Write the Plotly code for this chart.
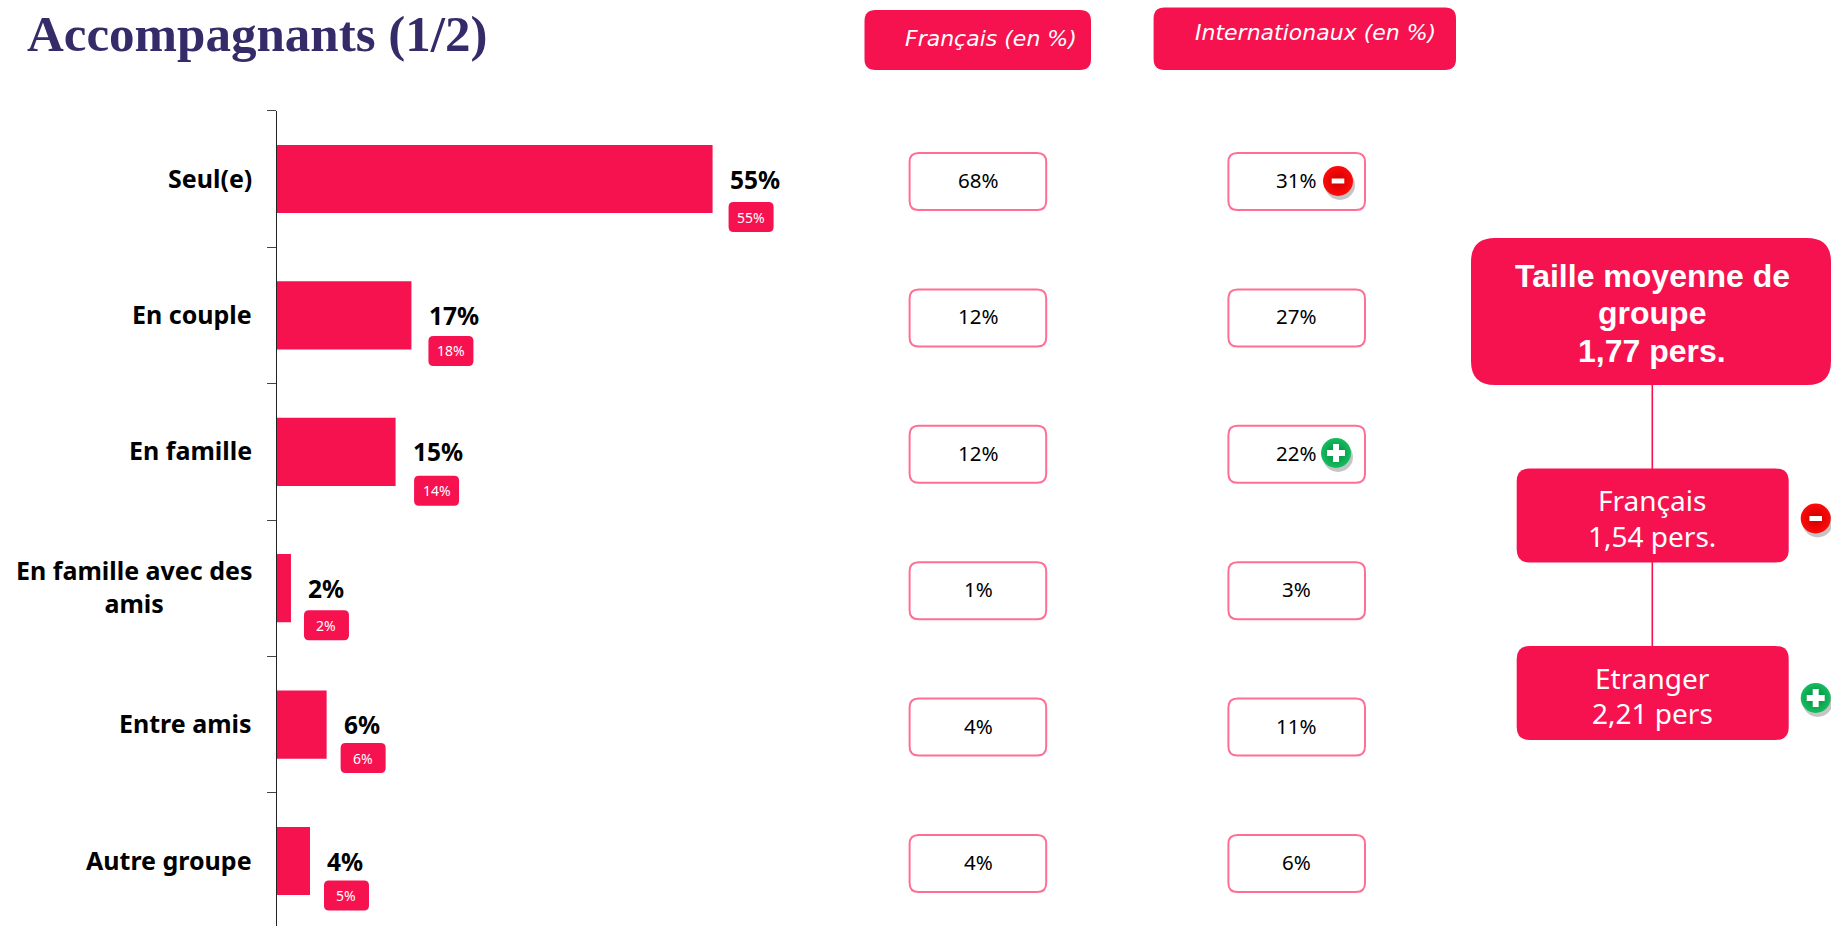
import plotly.graph_objects as go

W, H = 1831, 926
RED = "#F5124F"
PINK = "#FF6F93"
NAVY = "#352B69"

categories = ["Seul(e)", "En couple", "En famille", "En famille avec des amis", "Entre amis", "Autre groupe"]
category_labels = ["Seul(e)", "En couple", "En famille", "En famille avec des<br>amis", "Entre amis", "Autre groupe"]
bar_values = [55, 17, 15, 1.8, 6.3, 4.2]
bar_labels = ["55%", "17%", "15%", "2%", "6%", "4%"]
previous_labels = ["55%", "18%", "14%", "2%", "6%", "5%"]
francais = ["68%", "12%", "12%", "1%", "4%", "4%"]
internationaux = ["31%", "27%", "22%", "3%", "11%", "6%"]

badge_dx = [16, 17, 18.5, 13, 14, 14]
badge_dy = [38, 35.5, 39, 37, 33.5, 34.5]

FONT = "Noto Sans"
PLOT_L = 276.7
PX_PER_UNIT = 7.925
TOP = 110.8
BAND = 136.4


def rr(x0, y0, x1, y1, r):
    return (f"M{x0+r},{y0} L{x1-r},{y0} Q{x1},{y0} {x1},{y0+r} L{x1},{y1-r} Q{x1},{y1} {x1-r},{y1} "
            f"L{x0+r},{y1} Q{x0},{y1} {x0},{y1-r} L{x0},{y0+r} Q{x0},{y0} {x0+r},{y0} Z")


fig = go.Figure()
fig.add_bar(y=categories, x=bar_values, orientation="h", marker=dict(color=RED, line=dict(width=0)),
            width=0.5, hoverinfo="skip", showlegend=False)

shapes, ann = [], []


def pix_box(x0, y0, x1, y1, r, fill=RED, line=None, lw=0):
    shapes.append(dict(type="path", xref="x2", yref="y2", path=rr(x0, y0, x1, y1, r), fillcolor=fill,
                       line=dict(color=line or fill, width=lw), layer="below"))


def pix_text(x, y, text, size, color="white", family=FONT, bold=False, italic=False, anchor="center"):
    if bold:
        text = f"<b>{text}</b>"
    if italic:
        text = f"<i>{text}</i>"
    ann.append(dict(xref="x2", yref="y2", x=x, y=y, text=text, showarrow=False, xanchor=anchor, yanchor="middle",
                    font=dict(family=family, size=size, color=color)))


# Title and header boxes
pix_text(25, 34, "Accompagnants (1/2)", 51, NAVY, "Liberation Serif", bold=True, anchor="left")
pix_box(864.5, 10, 1091, 70, 11)
pix_box(1153.6, 7.5, 1456, 70, 11)
pix_text(991, 38, "Français (en %)", 22, family="DejaVu Sans", italic=True)
pix_text(1315, 32, "Internationaux (en %)", 22, family="DejaVu Sans", italic=True)

# Bars: category labels, value labels and badges
for i, c in enumerate(categories):
    ann.append(dict(xref="paper", yref="y", x=254 / W, y=c, yshift=1.5, text=f"<b>{category_labels[i]}</b>", showarrow=False,
                    xanchor="right", yanchor="middle", align="center",
                    font=dict(family=FONT, size=25, color="#000")))
    ann.append(dict(xref="x", yref="y", x=bar_values[i], y=c, xshift=15.5, yshift=0, text=f"<b>{bar_labels[i]}</b>",
                    showarrow=False, xanchor="left", yanchor="middle", font=dict(family=FONT, size=24.5, color="#000")))
    dx, dy = badge_dx[i], badge_dy[i]
    shapes.append(dict(type="path", xref="x", yref="y", xsizemode="pixel", ysizemode="pixel",
                       xanchor=bar_values[i], yanchor=c, path=rr(dx, -dy - 15, dx + 45, -dy + 15, 5),
                       fillcolor=RED, line=dict(width=0)))
    ann.append(dict(xref="x", yref="y", x=bar_values[i], y=c, xshift=dx + 22.5, yshift=-dy, text=previous_labels[i],
                    showarrow=False, xanchor="center", yanchor="middle", font=dict(family=FONT, size=14, color="white")))
    # Table cells
    for x0, vals, tx in ((909.6, francais, 978), (1228.4, internationaux, 1296)):
        shapes.append(dict(type="path", xref="x2", yref="y", ysizemode="pixel", yanchor=c,
                           path=rr(x0, -31, x0 + 136.6, 26, 9), fillcolor="rgba(0,0,0,0)",
                           line=dict(color=PINK, width=2), layer="below"))
        ann.append(dict(xref="x2", yref="y", x=tx, y=c, yshift=-1, text=vals[i], showarrow=False, xanchor="center",
                        yanchor="middle", font=dict(family=FONT, size=20.5, color="#000")))

# Group-size flow
shapes.append(dict(type="line", xref="x2", yref="y2", x0=1652.3, x1=1652.3, y0=385, y1=646,
                   line=dict(color=RED, width=1.6), layer="below"))
pix_box(1471, 238, 1831, 385, 24)
pix_box(1516.7, 468.5, 1788.7, 562.5, 13)
pix_box(1516.7, 646, 1788.7, 740, 13)
pix_text(1652, 276, "Taille moyenne de", 32, family="Liberation Sans", bold=True)
pix_text(1652, 313, "groupe", 32, family="Liberation Sans", bold=True)
pix_text(1652, 351, "1,77 pers.", 32, family="Liberation Sans", bold=True)
pix_text(1652, 500, "Français", 28)
pix_text(1652, 536, "1,54 pers.", 28)
pix_text(1652, 678, "Etranger", 28)
pix_text(1652, 713, "2,21 pers", 28)

# Icons
minus_pts = [(1338, 181), (1815.7, 518.5)]
plus_pts = [(1336, 453), (1815.7, 698)]
for pts, c0, c1 in ((minus_pts, "#FF0A0A", "#CC0000"), (plus_pts, "#16BC60", "#008A3A")):
    xs = [p[0] for p in pts]
    ys = [p[1] for p in pts]
    fig.add_scatter(x=[x + 2 for x in xs], y=[y + 4 for y in ys], xaxis="x2", yaxis="y2", mode="markers",
                    marker=dict(size=30, color="rgba(90,90,90,0.35)", line=dict(width=0)),
                    hoverinfo="skip", showlegend=False, cliponaxis=False)
    fig.add_scatter(x=xs, y=ys, xaxis="x2", yaxis="y2", mode="markers",
                    marker=dict(size=30, color=c0, gradient=dict(type="radial", color=c1), line=dict(width=0)),
                    hoverinfo="skip", showlegend=False, cliponaxis=False)
fig.add_scatter(x=[p[0] for p in minus_pts], y=[p[1] for p in minus_pts], xaxis="x2", yaxis="y2", mode="markers",
                marker=dict(symbol="line-ew", size=9, line=dict(color="white", width=5)),
                hoverinfo="skip", showlegend=False)
fig.add_scatter(x=[p[0] for p in plus_pts], y=[p[1] for p in plus_pts], xaxis="x2", yaxis="y2", mode="markers",
                marker=dict(symbol="cross", size=15, color="white", line=dict(width=0)),
                hoverinfo="skip", showlegend=False)

fig.update_layout(
    width=W, height=H, autosize=False, margin=dict(l=0, r=0, t=0, b=0, pad=0),
    paper_bgcolor="white", plot_bgcolor="rgba(0,0,0,0)", showlegend=False, shapes=shapes, annotations=ann,
    xaxis=dict(domain=[PLOT_L / W, 1], range=[0, (W - PLOT_L) / PX_PER_UNIT], visible=False, fixedrange=True),
    yaxis=dict(domain=[0, 1 - TOP / H], type="category", categoryorder="array", categoryarray=categories,
               range=[(H - TOP) / BAND - 0.5, -0.5], showticklabels=False, showline=True, linecolor="#222", linewidth=1,
               ticks="outside", ticklen=9, tickwidth=1, tickcolor="#444", tickson="boundaries", showgrid=False,
               zeroline=False, fixedrange=True),
    xaxis2=dict(domain=[0, 1], range=[0, W], anchor="y2", visible=False, fixedrange=True),
    yaxis2=dict(domain=[0, 1], range=[H, 0], anchor="x2", visible=False, fixedrange=True),
)
fig.write_html("out.html", config=dict(displayModeBar=False),
               post_script="document.body.style.margin='0';document.documentElement.style.overflow='hidden';")
